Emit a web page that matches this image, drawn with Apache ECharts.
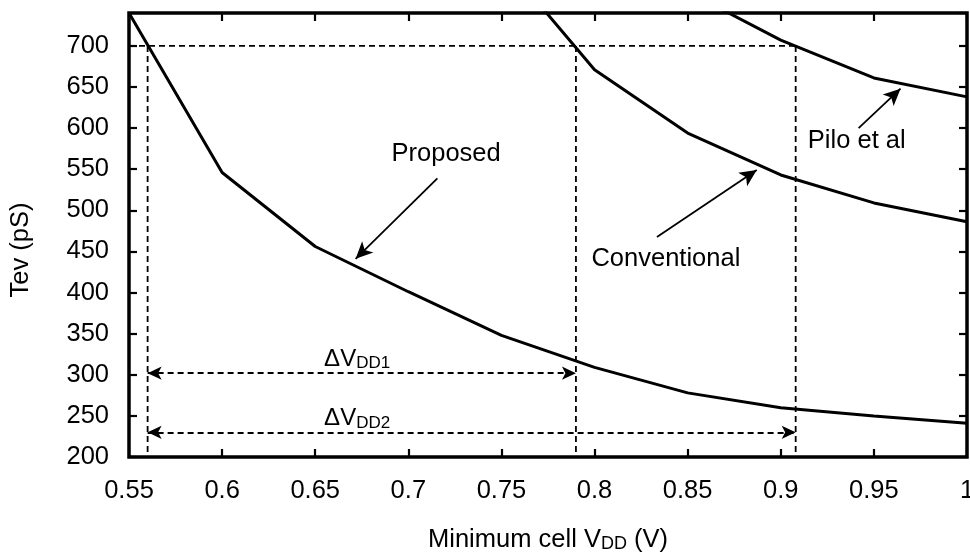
<!DOCTYPE html>
<html><head><meta charset="utf-8">
<script src="https://cdn.jsdelivr.net/npm/echarts@6/dist/echarts.min.js"></script>
<style>html,body{margin:0;padding:0;background:#fff}#c{width:970px;height:557px}</style>
</head><body><div id="c"></div>
<script>
// ---- data ----
const proposedX = [0.55, 0.6, 0.65, 0.7, 0.75, 0.8, 0.85, 0.9, 0.95, 1.0];
const proposedY = [740, 546, 456, 401, 348, 309, 278, 260, 250, 241];
const conventionalX = [0.75, 0.8, 0.85, 0.9, 0.95, 1.0];
const conventionalY = [805, 671, 594, 543, 509, 486];
const piloX = [0.85, 0.9, 0.95, 1.0];
const piloY = [766, 707, 661, 638];

const targetTev = 700;                 // horizontal dashed guide
const guideVdd = [0.56, 0.79, 0.908];   // vertical dashed guides (min Vdd at 700 pS)
const delta1 = {label: 'DD1', from: 0.56, to: 0.79, y: 302};
const delta2 = {label: 'DD2', from: 0.56, to: 0.908, y: 230};
const deltaLabelX = 0.6725;
const deltaLabelOffset = 17;

const notes = [
  {text: 'Proposed',     at: [0.7203, 568], from: [0.7156, 539], to: [0.6717, 441]},
  {text: 'Conventional', at: [0.8383, 441], from: [0.8335, 467.6], to: [0.8871, 549]},
  {text: 'Pilo et al',   at: [0.9408, 584], from: [0.9418, 600], to: [0.9643, 648]}
];

const xMin = 0.55, xMax = 1.0, xStep = 0.05;
const yMin = 200, yMax = 740, yStep = 50;

// ---- chart ----
const FONT = '"Liberation Sans", Arial, Helvetica, sans-serif';
const FS = 25.5;
const zip = (xs, ys) => xs.map((x, i) => [x, ys[i]]);
const dash = {type: [6, 4], width: 1.8, color: '#000'};

const series = [];
// guides
series.push({type: 'line', data: [[xMin, targetTev], [guideVdd[2], targetTev]],
  symbol: 'none', lineStyle: dash, silent: true, z: 1});
guideVdd.forEach(v => series.push({type: 'line', data: [[v, targetTev], [v, yMin]],
  symbol: 'none', lineStyle: dash, silent: true, z: 1}));
// curves
[[proposedX, proposedY], [conventionalX, conventionalY], [piloX, piloY]].forEach(([xs, ys]) =>
  series.push({type: 'line', data: zip(xs, ys), symbol: 'none', clip: true,
    lineStyle: {color: '#000', width: 3}, silent: true, z: 3}));
// delta arrows & annotation arrows
series.push({type: 'line', data: [], silent: true,
  markLine: {silent: true, animation: false, label: {show: false},
    symbol: ['arrow', 'arrow'], symbolSize: [10, 14],
    lineStyle: dash,
    data: [delta1, delta2].map(d => [{coord: [d.from, d.y]}, {coord: [d.to, d.y]}])}});
series.push({type: 'line', data: [], silent: true,
  markLine: {silent: true, animation: false, label: {show: false},
    symbol: ['none', 'arrow'], symbolSize: [12, 17],
    lineStyle: {type: 'solid', width: 1.8, color: '#000'},
    data: notes.map(n => [{coord: n.from}, {coord: n.to}])}});
// text labels
const labelItem = {opacity: 1, color: 'rgba(0,0,0,0)'};
series.push({type: 'scatter', symbolSize: 0, silent: true, z: 5, itemStyle: labelItem,
  data: notes.map(n => ({value: n.at, label: {show: true, position: 'inside', opacity: 1,
    formatter: n.text, fontSize: FS, fontFamily: FONT, color: '#000'}}))});
series.push({type: 'scatter', symbolSize: 0, silent: true, z: 5, itemStyle: labelItem,
  data: [delta1, delta2].map(d => ({value: [deltaLabelX, d.y + deltaLabelOffset], label: {show: true,
    position: 'inside', opacity: 1, formatter: '{a|\u0394V}{s|' + d.label + '}',
    rich: {a: {fontSize: 24, fontFamily: FONT, color: '#000', lineHeight: 26},
           s: {fontSize: 17, fontFamily: FONT, color: '#000', lineHeight: 17, verticalAlign: 'bottom'}}}}))});

const tickStyle = {inside: true, length: 8, lineStyle: {color: '#000', width: 2.2}};
const option = {
  animation: false,
  grid: {left: 129, right: 3, top: 13, bottom: 100, show: true, borderColor: '#000', borderWidth: 3.5,
    containLabel: false, outerBoundsMode: 'none'},
  xAxis: [
    {type: 'value', min: xMin, max: xMax, interval: xStep,
     axisLine: {show: false, onZero: false}, axisTick: tickStyle, splitLine: {show: false},
     axisLabel: {fontSize: FS, fontFamily: FONT, color: '#000', margin: 21,
       formatter: v => String(+v.toFixed(2))},
     name: '{a|Minimum cell V}{s|DD}{a| (V)}', nameLocation: 'middle', nameGap: 69,
     nameTextStyle: {fontFamily: FONT, color: '#000',
       rich: {a: {fontSize: FS, fontFamily: FONT, color: '#000', lineHeight: 27},
              s: {fontSize: 18, fontFamily: FONT, color: '#000', lineHeight: 18, verticalAlign: 'bottom'}}}},
    {type: 'value', position: 'top', min: xMin, max: xMax, interval: xStep,
     axisLine: {show: false, onZero: false}, axisTick: tickStyle, splitLine: {show: false},
     axisLabel: {show: false}}
  ],
  yAxis: [
    {type: 'value', min: yMin, max: yMax, interval: yStep,
     axisLine: {show: false, onZero: false}, axisTick: tickStyle, splitLine: {show: false},
     axisLabel: {fontSize: FS, fontFamily: FONT, color: '#000', margin: 20, showMaxLabel: false,
       formatter: v => (v > 700 ? '' : String(v))},
     name: 'Tev (pS)', nameLocation: 'middle', nameGap: 95,
     nameTextStyle: {fontSize: FS, fontFamily: FONT, color: '#000', padding: [0, 30, 0, 0]}},
    {type: 'value', position: 'right', min: yMin, max: yMax, interval: yStep,
     axisLine: {show: false, onZero: false}, axisTick: tickStyle, splitLine: {show: false},
     axisLabel: {show: false}}
  ],
  series: series
};
const chart = echarts.init(document.getElementById('c'), null, {renderer: 'canvas'});
chart.setOption(option);
</script>
</body></html>
